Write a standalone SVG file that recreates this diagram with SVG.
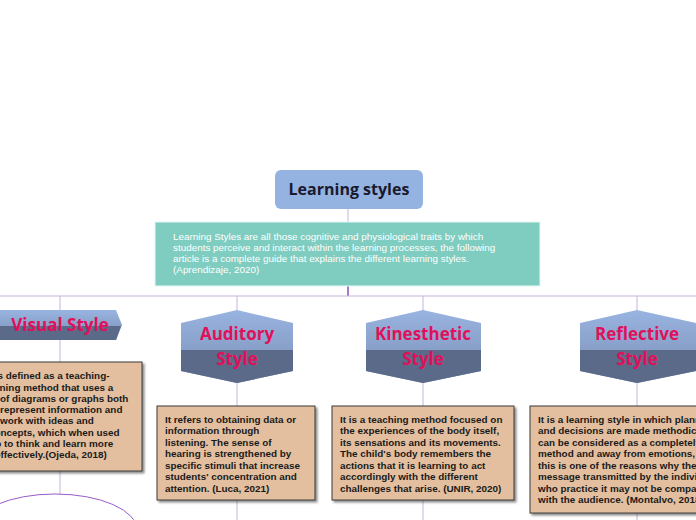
<svg xmlns="http://www.w3.org/2000/svg" width="696" height="520" viewBox="0 0 696 520">
<defs>
<linearGradient id="hg" x1="0" y1="0" x2="0" y2="1"><stop offset="0" stop-color="#98b4e0"/><stop offset="1" stop-color="#7b8fb5"/></linearGradient>
<filter id="sh" x="-5%" y="-5%" width="115%" height="115%"><feDropShadow dx="2" dy="2" stdDeviation="0.8" flood-color="#000" flood-opacity="0.45"/></filter>
<style>
.ln{stroke:#c7b3dc;stroke-width:1;fill:none}
.hx{font-family:"Open Sans","Liberation Sans",sans-serif;font-weight:bold;font-size:17px;fill:#e0105a;text-anchor:middle}
.d{font-family:"Liberation Sans",Arial,sans-serif;font-weight:bold;font-size:9.9px;fill:#1a1a1a}
.box{fill:#e3bf9f;stroke:#3a3a3a;stroke-width:1;filter:url(#sh)}
.low{fill:#5a6a88}
</style>
</defs>
<rect width="696" height="520" fill="#fff"/>
<g id="connectors">
<line class="ln" x1="348" y1="209" x2="348" y2="222"/>
<line x1="348" y1="286" x2="348" y2="296" stroke="#8a4fb0" stroke-width="1.5"/>
<line class="ln" x1="0" y1="296" x2="696" y2="296"/>
<line class="ln" x1="60" y1="296" x2="60" y2="520"/>
<line class="ln" x1="237" y1="296" x2="237" y2="520"/>
<line class="ln" x1="423" y1="296" x2="423" y2="520"/>
<line class="ln" x1="637" y1="296" x2="637" y2="520"/>
</g>
<g id="root">
<rect x="275" y="170" width="148" height="39" rx="6" fill="#95b3e0"/>
<text x="349" y="195" text-anchor="middle" font-family="Open Sans,Liberation Sans,sans-serif" font-weight="bold" font-size="16" fill="#1a1a2e">Learning styles</text>
</g>
<g id="intro">
<rect x="155" y="222" width="385" height="64" fill="#7ecdc0" stroke="#e8f8f5" stroke-width="1"/>
<g font-family="Liberation Sans,Arial,sans-serif" font-size="9.9" fill="#fff">
<text x="173" y="240">Learning Styles are all those cognitive and physiological traits by which</text>
<text x="173" y="251">students perceive and interact within the learning processes, the following</text>
<text x="173" y="262">article is a complete guide that explains the different learning styles.</text>
<text x="173" y="273">(Aprendizaje, 2020)</text>
</g>
</g>
<g id="visual">
<polygon points="-2,310 116,310 122,325 116,340 -2,340" fill="url(#hg)"/>
<polygon points="-2,326 121,326 116,340 -2,340" class="low"/>
<text class="hx" x="60" y="331">Visual Style</text>
<rect class="box" x="-5" y="362" width="147" height="109"/>
<g class="d">
<text x="-14" y="379">It is defined as a teaching-</text>
<text x="-18" y="391">learning method that uses a</text>
<text x="-17" y="402">set of diagrams or graphs both</text>
<text x="-12" y="413">to represent information and</text>
<text x="-12" y="424">to work with ideas and</text>
<text x="-11" y="436">concepts, which when used</text>
<text x="-19" y="447">help to think and learn more</text>
<text x="-5" y="458">effectively.(Ojeda, 2018)</text>
</g>
<ellipse cx="55" cy="530" rx="82" ry="36" fill="#fff" stroke="#9a5cc6" stroke-width="1"/>
</g>
<g id="auditory">
<polygon points="237,310 293,323 293,371 237,383 181,371 181,323" fill="url(#hg)"/>
<polygon points="181,350 293,350 293,371 237,383 181,371" class="low"/>
<text class="hx" x="237" y="340">Auditory</text>
<text class="hx" x="237" y="365">Style</text>
<rect class="box" x="157" y="406" width="158" height="94"/>
<g class="d">
<text x="165" y="423">It refers to obtaining data or</text>
<text x="165" y="434">information through</text>
<text x="165" y="446">listening. The sense of</text>
<text x="165" y="457">hearing is strengthened by</text>
<text x="165" y="469">specific stimuli that increase</text>
<text x="165" y="480">students' concentration and</text>
<text x="165" y="492">attention. (Luca, 2021)</text>
</g>
</g>
<g id="kinesthetic">
<polygon points="423,310 481,323 481,371 423,383 366,371 366,323" fill="url(#hg)"/>
<polygon points="366,350 481,350 481,371 423,383 366,371" class="low"/>
<text class="hx" x="423" y="340">Kinesthetic</text>
<text class="hx" x="423" y="365">Style</text>
<rect class="box" x="332" y="406" width="182" height="94"/>
<g class="d">
<text x="340" y="423">It is a teaching method focused on</text>
<text x="340" y="434">the experiences of the body itself,</text>
<text x="340" y="446">its sensations and its movements.</text>
<text x="340" y="457">The child's body remembers the</text>
<text x="340" y="469">actions that it is learning to act</text>
<text x="340" y="480">accordingly with the different</text>
<text x="340" y="492">challenges that arise. (UNIR, 2020)</text>
</g>
</g>
<g id="reflective">
<polygon points="637,310 696,323 696,371 637,383 580,371 580,323" fill="url(#hg)"/>
<polygon points="580,350 696,350 696,371 637,383 580,371" class="low"/>
<text class="hx" x="637" y="340">Reflective</text>
<text class="hx" x="637" y="365">Style</text>
<rect class="box" x="530" y="406" width="180" height="107"/>
<g class="d">
<text x="538" y="423">It is a learning style in which planning</text>
<text x="538" y="434">and decisions are made methodically, it</text>
<text x="538" y="446">can be considered as a completely logical</text>
<text x="538" y="457">method and away from emotions, therefore</text>
<text x="538" y="469">this is one of the reasons why the</text>
<text x="538" y="480">message transmitted by the individuals</text>
<text x="538" y="492">who practice it may not be compatible</text>
<text x="538" y="503">with the audience. (Montalvo, 2018)</text>
</g>
</g>
</svg>
